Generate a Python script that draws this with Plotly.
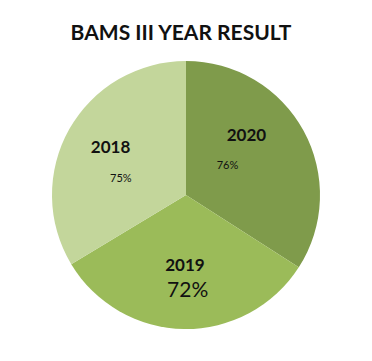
import plotly.graph_objects as go

years = ["2020", "2019", "2018"]
results = [76, 72, 75]
colors = ["#7F9B4B", "#9BBB59", "#C3D69B"]
year_sizes = [17, 17, 17]
pct_sizes = [11, 21, 11]
base_sizes = [22, 20, 22]

NB = "&nbsp;"


def pad_line(size):
    return "<span style='font-size:%dpx'>&nbsp;</span>" % size


def line(txt, size, lead=0, trail=0, bold=False):
    body = "<b>%s</b>" % txt if bold else txt
    return "<span style='font-size:%dpx'>%s%s%s</span>" % (size, NB * lead, body, NB * trail)


templates = [
    line("%{label}", year_sizes[0], trail=1, bold=True) + "<br>"
    + line("%{value}%", pct_sizes[0], trail=15) + "<br>" + pad_line(2),
    pad_line(12) + "<br>" + line("%{label}", year_sizes[1], bold=True) + "<br>"
    + line("%{value}%", pct_sizes[1], lead=1),
    line("%{label}", year_sizes[2], trail=6, bold=True) + "<br>"
    + line("%{value}%", pct_sizes[2], trail=2),
]

fig = go.Figure(go.Pie(
    labels=years,
    values=results,
    sort=False,
    direction="clockwise",
    rotation=0,
    marker=dict(colors=colors, line=dict(width=0)),
    texttemplate=templates,
    textposition="inside",
    insidetextorientation="horizontal",
    textfont=dict(family="Lato", size=base_sizes, color="#111111"),
    domain=dict(x=[44/356, 312/356], y=[1-321/345, 1-53/345]),
    hoverinfo="label+value",
    showlegend=False,
))

fig.update_layout(
    width=356, height=345,
    margin=dict(l=0, r=0, t=0, b=0),
    paper_bgcolor="white",
    uniformtext=dict(mode="show", minsize=20),
    title=dict(text="<b>BAMS III YEAR RESULT</b>", x=173/356, xanchor="center",
               y=1-25/345, yanchor="middle",
               font=dict(family="Lato", size=21, color="#111111")),
)

fig.write_html("out.html")
